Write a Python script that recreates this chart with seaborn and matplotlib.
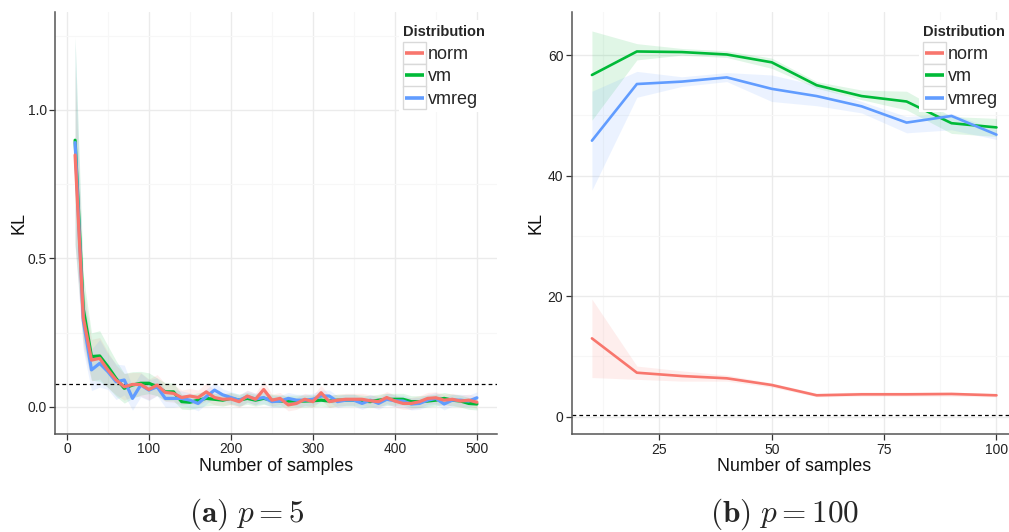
import numpy as np
import pandas as pd
import matplotlib
matplotlib.use("Agg")
import matplotlib.pyplot as plt
import seaborn as sns
from matplotlib.patches import Rectangle
from matplotlib.lines import Line2D

# ---------------- data ----------------
dists = ["norm", "vm", "vmreg"]
draw_order = ["vm", "vmreg", "norm"]
colors = {"norm": "#F8766D", "vm": "#00BA38", "vmreg": "#619CFF"}

# panel (a) p = 5
samples_a = list(range(10, 510, 10))
norm_a = [0.848, 0.300, 0.157, 0.163, 0.124, 0.090, 0.067, 0.075, 0.075, 0.058,
          0.073, 0.048, 0.045, 0.031, 0.036, 0.031, 0.050, 0.031, 0.025, 0.026,
          0.017, 0.036, 0.025, 0.058, 0.022, 0.028, 0.006, 0.011, 0.025, 0.017,
          0.047, 0.017, 0.022, 0.025, 0.025, 0.025, 0.020, 0.017, 0.031, 0.019,
          0.011, 0.011, 0.017, 0.028, 0.030, 0.022, 0.025, 0.019, 0.022, 0.015]
vm_a = [0.898, 0.330, 0.169, 0.171, 0.135, 0.095, 0.062, 0.073, 0.079, 0.079,
        0.067, 0.050, 0.050, 0.017, 0.015, 0.022, 0.028, 0.025, 0.022, 0.028,
        0.022, 0.028, 0.022, 0.028, 0.022, 0.019, 0.019, 0.019, 0.019, 0.020,
        0.022, 0.019, 0.022, 0.022, 0.022, 0.019, 0.017, 0.022, 0.025, 0.025,
        0.025, 0.017, 0.017, 0.019, 0.022, 0.028, 0.022, 0.019, 0.011, 0.009]
vmreg_a = [0.890, 0.290, 0.124, 0.146, 0.118, 0.084, 0.090, 0.028, 0.073, 0.056,
           0.067, 0.028, 0.028, 0.028, 0.022, 0.011, 0.034, 0.056, 0.040, 0.031,
           0.022, 0.034, 0.026, 0.031, 0.017, 0.019, 0.028, 0.022, 0.022, 0.025,
           0.036, 0.036, 0.017, 0.022, 0.022, 0.011, 0.022, 0.011, 0.025, 0.020,
           0.019, 0.009, 0.011, 0.022, 0.028, 0.009, 0.022, 0.022, 0.019, 0.030]
norm_a_hw = [0.30, 0.10, 0.07, 0.07, 0.06, 0.05, 0.045, 0.04, 0.04, 0.035,
             0.035, 0.03, 0.03, 0.025, 0.025, 0.025, 0.03, 0.025, 0.02, 0.02,
             0.02, 0.02, 0.02, 0.03, 0.02, 0.02, 0.02, 0.02, 0.02, 0.02,
             0.025, 0.02, 0.02, 0.02, 0.02, 0.02, 0.02, 0.02, 0.02, 0.02,
             0.02, 0.02, 0.02, 0.02, 0.02, 0.02, 0.02, 0.02, 0.02, 0.02]
vm_a_hw = [0.35, 0.11, 0.08, 0.085, 0.07, 0.06, 0.05, 0.045, 0.04, 0.035,
           0.03, 0.03, 0.03, 0.025, 0.025, 0.025, 0.025, 0.02, 0.02, 0.02,
           0.02, 0.02, 0.02, 0.02, 0.02, 0.02, 0.02, 0.02, 0.02, 0.02,
           0.02, 0.02, 0.02, 0.02, 0.02, 0.02, 0.02, 0.02, 0.02, 0.02,
           0.02, 0.02, 0.02, 0.02, 0.02, 0.02, 0.02, 0.02, 0.02, 0.02]
vmreg_a_hw = [0.35, 0.10, 0.07, 0.08, 0.06, 0.06, 0.05, 0.04, 0.04, 0.035,
              0.03, 0.03, 0.03, 0.025, 0.025, 0.025, 0.025, 0.025, 0.02, 0.02,
              0.02, 0.02, 0.02, 0.02, 0.02, 0.02, 0.02, 0.02, 0.02, 0.02,
              0.02, 0.02, 0.02, 0.02, 0.02, 0.02, 0.02, 0.02, 0.02, 0.02,
              0.02, 0.02, 0.02, 0.02, 0.02, 0.02, 0.02, 0.02, 0.02, 0.02]
ref_a = 0.0755

# panel (b) p = 100
samples_b = [10, 20, 30, 40, 50, 60, 70, 80, 90, 100]
norm_b = [13.0, 7.3, 6.75, 6.37, 5.26, 3.55, 3.71, 3.71, 3.77, 3.55]
norm_b_lo = [6.5, 6.2, 5.9, 5.9, 4.9, 3.3, 3.4, 3.4, 3.4, 3.3]
norm_b_hi = [19.5, 8.4, 7.6, 6.9, 5.6, 3.9, 4.1, 4.1, 4.1, 3.8]
vm_b = [56.7, 60.6, 60.5, 60.1, 58.8, 55.0, 53.2, 52.3, 48.7, 48.0]
vm_b_lo = [49.2, 59.2, 60.0, 59.6, 57.8, 54.5, 52.6, 50.9, 47.0, 46.5]
vm_b_hi = [64.0, 61.9, 61.1, 60.7, 59.5, 55.6, 54.2, 54.0, 49.8, 49.5]
vmreg_b = [45.8, 55.2, 55.6, 56.3, 54.4, 53.2, 51.5, 48.8, 49.9, 46.8]
vmreg_b_lo = [37.6, 53.0, 54.8, 55.6, 52.3, 51.6, 50.4, 47.1, 47.6, 46.0]
vmreg_b_hi = [54.0, 57.3, 56.4, 57.1, 56.7, 55.0, 52.3, 49.8, 50.3, 47.6]
ref_b = 0.25

captions = [r"$\mathbf{(a)}\ p = 5$", r"$\mathbf{(b)}\ p = 100$"]

# ---------------- frames ----------------
def make_df(samples, means, los, his):
    rows = []
    for d in dists:
        for s, m, lo, hi in zip(samples, means[d], los[d], his[d]):
            rows.append({"samples": s, "KL": m, "lo": lo, "hi": hi, "Distribution": d})
    return pd.DataFrame(rows)

df_a = make_df(samples_a,
               {"norm": norm_a, "vm": vm_a, "vmreg": vmreg_a},
               {"norm": [m - h for m, h in zip(norm_a, norm_a_hw)],
                "vm": [m - h for m, h in zip(vm_a, vm_a_hw)],
                "vmreg": [m - h for m, h in zip(vmreg_a, vmreg_a_hw)]},
               {"norm": [m + h for m, h in zip(norm_a, norm_a_hw)],
                "vm": [m + h for m, h in zip(vm_a, vm_a_hw)],
                "vmreg": [m + h for m, h in zip(vmreg_a, vmreg_a_hw)]})
df_b = make_df(samples_b,
               {"norm": norm_b, "vm": vm_b, "vmreg": vmreg_b},
               {"norm": norm_b_lo, "vm": vm_b_lo, "vmreg": vmreg_b_lo},
               {"norm": norm_b_hi, "vm": vm_b_hi, "vmreg": vmreg_b_hi})

# ---------------- style ----------------
sns.set_style("white")
plt.rcParams["font.family"] = ["Liberation Sans", "DejaVu Sans"]
plt.rcParams["mathtext.fontset"] = "cm"

W, H = 1009, 532
fig = plt.figure(figsize=(W / 100, H / 100), dpi=100)

def fx(px):
    return px / W

def fy(py):
    return 1 - py / H

ax_a = fig.add_axes([fx(55), fy(434), fx(442), (434 - 12) / H])
ax_b = fig.add_axes([fx(571.7), fy(434.3), fx(445), (434.3 - 11.7) / H])

def style_axes(ax, xlim, ylim, xmaj, xmin, ymaj, ymin, yfmt, ylpad):
    ax.set_xlim(*xlim)
    ax.set_ylim(*ylim)
    ax.set_xticks(xmaj)
    ax.set_xticks(xmin, minor=True)
    ax.set_yticks(ymaj)
    ax.set_yticks(ymin, minor=True)
    ax.set_yticklabels([yfmt.format(v) for v in ymaj])
    ax.grid(True, which="major", color="#EBEBEB", linewidth=1.0, zorder=0)
    ax.grid(True, which="minor", color="#F7F7F7", linewidth=0.8, zorder=0)
    ax.set_axisbelow(True)
    for s in ["top", "right"]:
        ax.spines[s].set_visible(False)
    for s in ["left", "bottom"]:
        ax.spines[s].set_color("#555555")
        ax.spines[s].set_linewidth(1.1)
    ax.tick_params(which="major", direction="out", length=4, width=0.9,
                   color="#333333", labelsize=10, labelcolor="#222222", pad=2,
                   bottom=True, left=True)
    ax.tick_params(which="minor", length=0)
    ax.set_xlabel("Number of samples", fontsize=12.8, labelpad=1, color="#111111")
    ax.set_ylabel("KL", fontsize=13, labelpad=ylpad, color="#111111")

def draw_panel(ax, df, lw, ref):
    for d in dists:
        sub = df[df["Distribution"] == d]
        ax.fill_between(sub["samples"], sub["lo"], sub["hi"], color=colors[d],
                        alpha=0.12, linewidth=0, zorder=1)
    sns.lineplot(data=df, x="samples", y="KL", hue="Distribution",
                 hue_order=draw_order, palette=colors, errorbar=None, legend=False,
                 linewidth=lw, ax=ax, zorder=3)
    ax.axhline(ref, color="black", linestyle=(0, (3, 2.5)), linewidth=0.9, zorder=2)

draw_panel(ax_a, df_a, 2.3, ref_a)
draw_panel(ax_b, df_b, 1.9, ref_b)

style_axes(ax_a, (-14.5, 524.5), (-0.092, 1.33),
           [0, 100, 200, 300, 400, 500], [50, 150, 250, 350, 450],
           [0.0, 0.5, 1.0], [0.25, 0.75, 1.25], "{:.1f}", 0)
style_axes(ax_b, (5.5, 104.5), (-2.92, 67.2),
           [25, 50, 75, 100], [12.5, 37.5, 62.5, 87.5],
           [0, 20, 40, 60], [10, 30, 50], "{:d}", 2)

# ---------------- legends (ggplot-like, drawn in figure pixels) ----------------
def draw_legend(x0, bg_right):
    fig.patches.append(Rectangle((fx(x0 - 4), fy(112)), fx(bg_right - x0 + 4), (112 - 20) / H,
                                 transform=fig.transFigure, facecolor="white",
                                 edgecolor="none", zorder=5))
    fig.text(fx(x0), fy(31.5), "Distribution", fontsize=10.5, fontweight="bold",
             va="center", ha="left", zorder=6)
    key_h = 22.4
    for i, d in enumerate(dists):
        top = 41.7 + i * key_h
        fig.patches.append(Rectangle((fx(x0), fy(top + key_h)), fx(22.5), key_h / H,
                                     transform=fig.transFigure, facecolor="white",
                                     edgecolor="#D9D9D9", linewidth=1.0, zorder=6))
        cy = fy(top + key_h / 2)
        fig.lines.append(Line2D([fx(x0 + 2), fx(x0 + 20.5)], [cy, cy],
                                transform=fig.transFigure, color=colors[d],
                                linewidth=2.6, zorder=7, solid_capstyle="butt"))
        fig.text(fx(x0 + 25), fy(top + key_h / 2 + 1.5), d, fontsize=13,
                 va="center", ha="left", zorder=7)

draw_legend(403, 500)
draw_legend(923, 1009)

# ---------------- captions ----------------
fig.text(fx(247), fy(522), captions[0], fontsize=22.5, ha="center", va="baseline")
fig.text(fx(785), fy(522), captions[1], fontsize=22.5, ha="center", va="baseline")

fig.savefig("out.png", dpi=100)
